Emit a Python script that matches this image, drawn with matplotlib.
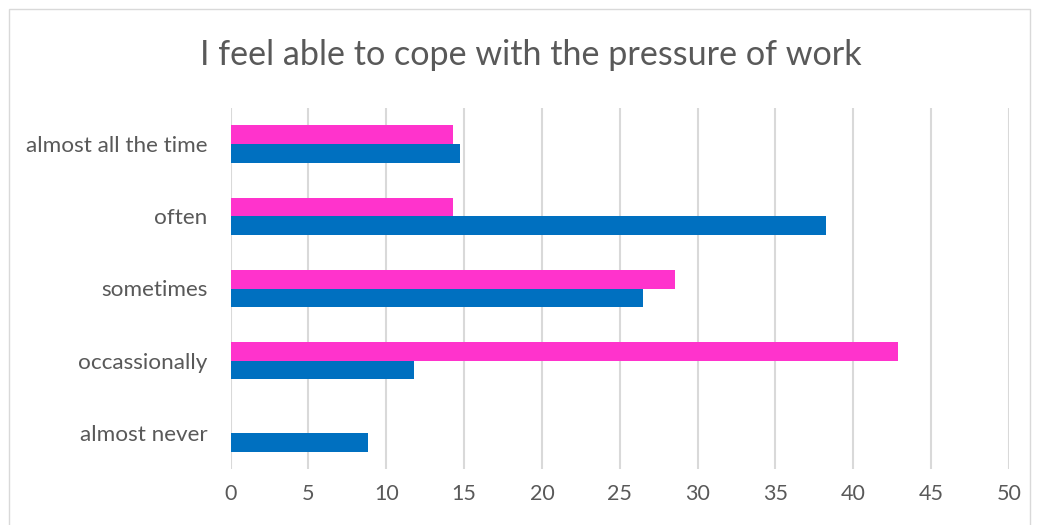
import matplotlib
matplotlib.use("Agg")
import matplotlib.pyplot as plt
from matplotlib.patches import Rectangle
import numpy as np

# Responses per answer category (percent)
categories = ["almost never", "occassionally", "sometimes", "often", "almost all the time"]
series_blue = [8.82, 11.76, 26.47, 38.24, 14.71]
series_pink = [0.0, 42.86, 28.57, 14.29, 14.29]
x_ticks = [0, 5, 10, 15, 20, 25, 30, 35, 40, 45, 50]
title = "I feel able to cope with the pressure of work"

BLUE = "#0070C0"
PINK = "#FF33CC"
GRID = "#D9D9D9"
TEXT = "#595959"

plt.rcParams["font.family"] = ["Lato", "DejaVu Sans"]

fig = plt.figure(figsize=(10.38, 5.25), dpi=100)
fig.patch.set_facecolor("white")

# chart frame
fig.patches.append(Rectangle((9 / 1038, -0.02), (1030 - 9) / 1038, 1 - 9 / 525 + 0.02,
                             transform=fig.transFigure, fill=False,
                             edgecolor="#D9D9D9", linewidth=1.0))

ax = fig.add_axes([230.5 / 1038, 1 - 469 / 525, (1009 - 230.5) / 1038, (469 - 108) / 525])

y = np.arange(len(categories))
h = 0.259
ax.barh(y - h / 2, series_blue, height=h, color=BLUE, linewidth=0, zorder=3)
ax.barh(y + h / 2, series_pink, height=h, color=PINK, linewidth=0, zorder=3)

ax.set_xlim(0, 50)
ax.set_ylim(-0.5, len(categories) - 0.5)
ax.set_xticks(x_ticks)
ax.set_xticklabels([str(t) for t in x_ticks])
ax.set_yticks(y)
ax.set_yticklabels(categories)

ax.grid(axis="x", color=GRID, linewidth=1.5, zorder=0)
ax.set_axisbelow(True)
for s in ax.spines.values():
    s.set_visible(False)
ax.tick_params(axis="both", length=0, labelsize=15.5, colors=TEXT)
ax.tick_params(axis="y", labelsize=16.2, pad=16.5)
ax.tick_params(axis="x", pad=11)

fig.text(531 / 1038, 1 - 55 / 525, title, ha="center", va="center",
         fontsize=24.6, color=TEXT, fontweight="normal")

fig.savefig("out.png", dpi=100, facecolor="white")
